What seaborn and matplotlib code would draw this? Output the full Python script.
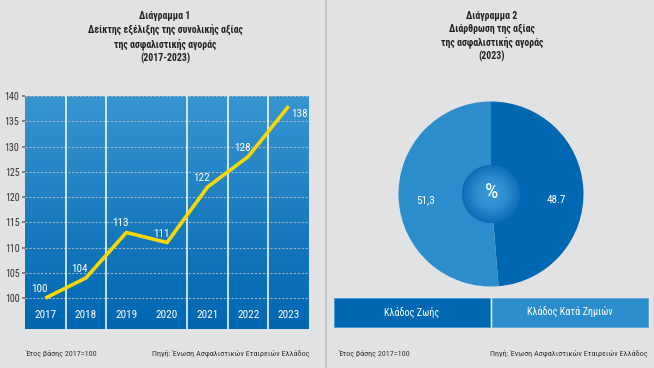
import numpy as np
import pandas as pd
import matplotlib
matplotlib.use("Agg")
import matplotlib.pyplot as plt
import seaborn as sns
from matplotlib.patches import Rectangle, Circle
from matplotlib.colors import LinearSegmentedColormap

# ---- data ----
years = ["2017", "2018", "2019", "2020", "2021", "2022", "2023"]
index_values = [100, 104, 113, 111, 122, 128, 138]
yticks = [100, 105, 110, 115, 120, 125, 130, 135, 140]

branches = ["Κλάδος Ζωής", "Κλάδος Κατά Ζημιών"]
shares = [48.7, 51.3]
share_labels = ["48.7", "51,3"]

title1 = "Διάγραμμα 1\nΔείκτης εξέλιξης της συνολικής αξίας\nτης ασφαλιστικής αγοράς\n(2017-2023)"
title2 = "Διάγραμμα 2\nΔιάρθρωση της αξίας\nτης ασφαλιστικής αγοράς\n(2023)"
note_left = "Έτος βάσης 2017=100"
note_right = "Πηγή: Ένωση Ασφαλιστικών Εταιρειών Ελλάδος"

sns.set_theme(style="white")
plt.rcParams["font.family"] = ["Roboto Condensed", "DejaVu Sans"]
plt.rcParams["font.stretch"] = "condensed"

BG = "#e1e2e4"
DARK = "#0068b3"
LIGHT = "#2b8dcb"
YELLOW = "#f7d900"
W, H = 654, 368

fig = plt.figure(figsize=(W / 100, H / 100), dpi=100, facecolor=BG)

def fx(x):
    return x / W

def fy(y):
    return 1 - y / H

# divider
fig.add_artist(plt.Line2D([fx(326), fx(326)], [0, 1], color="#c6c7c9", lw=1.6))

# titles
fig.text(fx(165), fy(11), title1, ha="center", va="top", fontsize=7.0,
         fontweight="bold", color="#222222", linespacing=1.3)
fig.text(fx(492), fy(11), title2, ha="center", va="top", fontsize=7.0,
         fontweight="bold", color="#222222", linespacing=1.3)

# ---- line chart ----
ax = fig.add_axes([fx(25), fy(329), fx(309) - fx(25), fy(96) - fy(329)])
ylo, yhi = 93.9, 140
ax.set_xlim(-0.5, len(years) - 0.5)
ax.set_ylim(ylo, yhi)
grad = np.linspace(0, 1, 256).reshape(-1, 1)
cmap = LinearSegmentedColormap.from_list("bg", ["#0066b1", "#3795d1"])
ax.imshow(grad, aspect="auto", cmap=cmap, origin="lower",
          extent=[-0.5, len(years) - 0.5, ylo, yhi], zorder=0)

for t in yticks:
    ax.axhline(t, color="#9fb5c8", lw=0.8, ls=(0, (2, 1.5)), zorder=1)
for i in range(len(years) - 1):
    if i == 2:
        continue
    ax.axvline(i + 0.5, color="white", lw=1.1, zorder=1)

df = pd.DataFrame({"x": np.arange(len(years)), "v": index_values})
sns.lineplot(data=df, x="x", y="v", ax=ax, color=YELLOW, lw=2.6, zorder=3,
             solid_capstyle="butt")
for i, v in enumerate(index_values):
    if i == len(years) - 1:
        ax.text(i + 0.07, v - 0.6, str(v), color="white", fontsize=8,
                ha="left", va="top", zorder=4)
    else:
        ax.text(i - 0.15, v + 0.8, str(v), color="white", fontsize=8,
                ha="center", va="bottom", zorder=4)
    ax.text(i, 96.6, years[i], color="white", fontsize=8, ha="center",
            va="center", zorder=4)

ax.set_yticks(yticks)
ax.set_yticklabels([str(t) for t in yticks], fontsize=7.2, color="#333333")
ax.set_xticks([])
ax.tick_params(axis="y", length=2, pad=2, color="#777777", left=True)
ax.set_xlabel("")
ax.set_ylabel("")
for s in ax.spines.values():
    s.set_visible(False)

# ---- pie chart ----
cx, cy, r = 491, 194, 92.5
pax = fig.add_axes([fx(cx - r), fy(cy + r), 2 * r / W, 2 * r / H])
wedges, _ = pax.pie(shares, colors=[DARK, LIGHT], startangle=90,
                    counterclock=False, radius=1,
                    wedgeprops=dict(linewidth=0))
pax.set_xlim(-1, 1)
pax.set_ylim(-1, 1)
pax.set_aspect("equal")
pax.axis("off")
pax.text(0.71, -0.07, share_labels[0], color="white", fontsize=8,
         ha="center", va="center")
pax.text(-0.71, -0.07, share_labels[1], color="white", fontsize=8,
         ha="center", va="center")
# centre disc with radial gradient
rc = 0.315
n = 200
xs = np.linspace(-rc, rc, n)
X, Y = np.meshgrid(xs, xs)
R = np.sqrt(X ** 2 + Y ** 2) / rc
ccmap = LinearSegmentedColormap.from_list("c", ["#3c9bd8", "#2d8dcf", "#0a6db6"])
im = pax.imshow(R, cmap=ccmap, vmin=0, vmax=1, extent=[-rc, rc, -rc, rc],
                zorder=5, origin="lower")
clip = Circle((0, 0), rc, transform=pax.transData)
im.set_clip_path(clip)
pax.text(0, 0.02, "%", color="white", fontsize=15, ha="center", va="center",
         zorder=6)

# legend boxes
fig.add_artist(Rectangle((fx(334), fy(327)), fx(490) - fx(334), fy(298) - fy(327),
                         facecolor=DARK, edgecolor="#4a98d0", lw=0.6))
fig.add_artist(Rectangle((fx(492), fy(327)), fx(648) - fx(492), fy(298) - fy(327),
                         facecolor=LIGHT, edgecolor="#5aa7da", lw=0.6))
fig.text(fx(412), fy(312.5), branches[0], color="white", fontsize=7.3,
         ha="center", va="center")
fig.text(fx(570), fy(312.5), branches[1], color="white", fontsize=7.3,
         ha="center", va="center")

# footers
for xl, xr in [(25, 309), (338, 648)]:
    fig.text(fx(xl), fy(353), note_left, fontsize=5.9, color="#333333",
             ha="left", va="center")
    fig.text(fx(xr), fy(353), note_right, fontsize=5.9, color="#333333",
             ha="right", va="center")

fig.savefig("out.png", dpi=100, facecolor=BG)
